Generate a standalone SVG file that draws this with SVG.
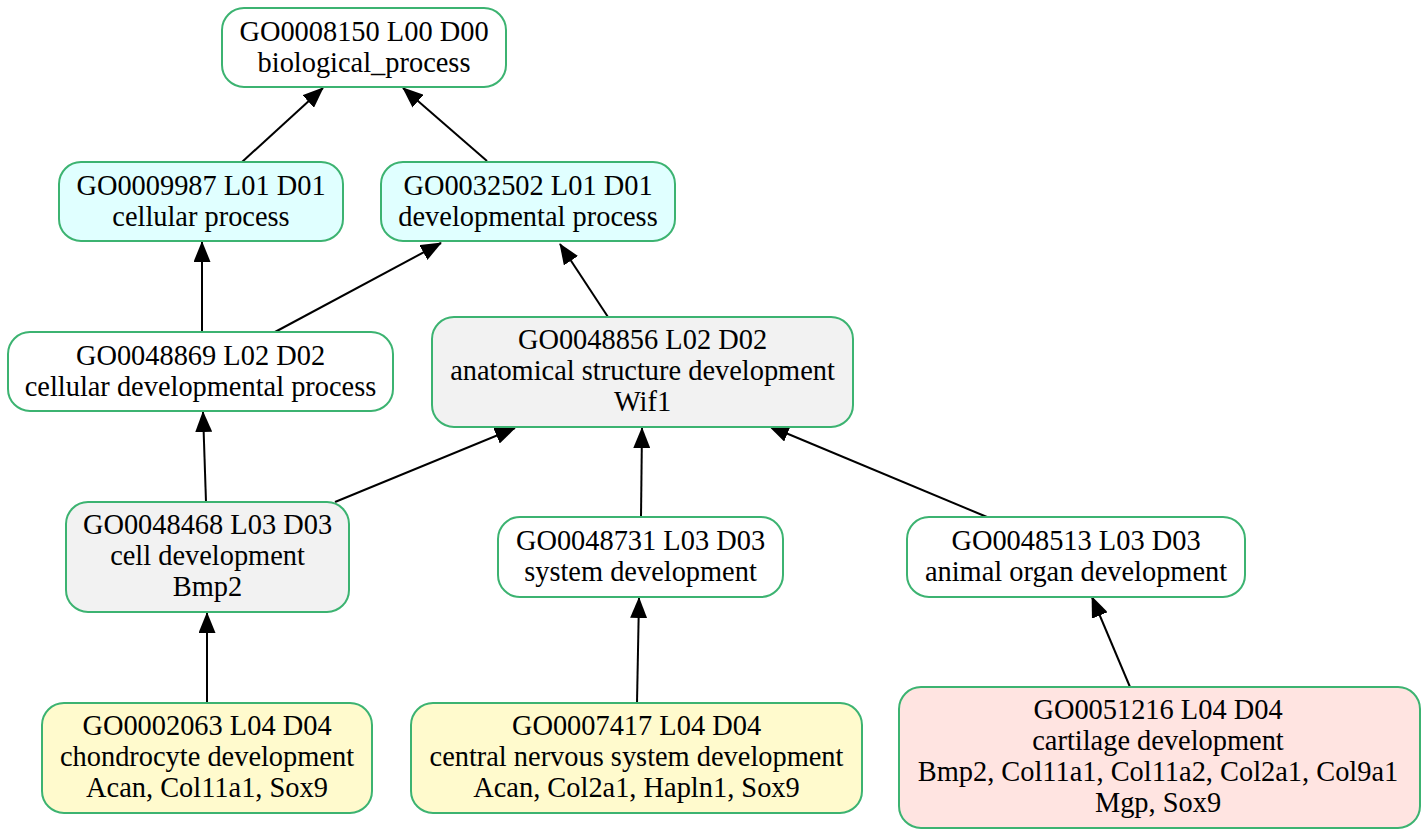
<svg xmlns="http://www.w3.org/2000/svg" width="1428" height="837" viewBox="0 0 1428 837">
<defs>
<style>
.n rect{stroke:#3cb371;stroke-width:2}
.n text{font-family:"Liberation Serif","Times New Roman",serif;font-size:28.4px;text-anchor:middle;fill:#000}
.w rect{fill:#ffffff}
.c rect{fill:#e0ffff}
.g rect{fill:#f2f2f2}
.y rect{fill:#fffacd}
.p rect{fill:#ffe4e1}
#edges line{stroke:#000;stroke-width:2;marker-end:url(#ah)}
</style>
<marker id="ah" viewBox="0 0 21 17" markerWidth="21" markerHeight="17" refX="20" refY="8.5" orient="auto" markerUnits="userSpaceOnUse">
<path d="M0,0 L21,8.5 L0,17 Z" fill="#000"/>
</marker>
</defs>
<rect width="1428" height="837" fill="#fff"/>
<g id="edges">
<line x1="242" y1="162" x2="323" y2="88"/>
<line x1="487" y1="161" x2="403" y2="88"/>
<line x1="202" y1="332" x2="202" y2="242"/>
<line x1="275" y1="332" x2="441" y2="243"/>
<line x1="608" y1="317" x2="560" y2="244"/>
<line x1="206" y1="502" x2="203" y2="412"/>
<line x1="335" y1="502" x2="515" y2="428"/>
<line x1="641" y1="517" x2="642" y2="428"/>
<line x1="987" y1="517" x2="769" y2="426"/>
<line x1="207" y1="703" x2="207" y2="613"/>
<line x1="637" y1="703" x2="639" y2="598"/>
<line x1="1130" y1="687" x2="1092" y2="597"/>
</g>
<g id="GO0008150" class="n w"><rect x="222" y="8" width="284" height="79" rx="22"/><text x="364" y="41">GO0008150 L00 D00</text><text x="364" y="72">biological_process</text></g>
<g id="GO0009987" class="n c"><rect x="59" y="162" width="284" height="79" rx="22"/><text x="201" y="195">GO0009987 L01 D01</text><text x="201" y="226">cellular process</text></g>
<g id="GO0032502" class="n c"><rect x="381" y="162" width="294" height="79" rx="22"/><text x="528" y="195">GO0032502 L01 D01</text><text x="528" y="226">developmental process</text></g>
<g id="GO0048869" class="n w"><rect x="8" y="332" width="385" height="79" rx="22"/><text x="200.5" y="365">GO0048869 L02 D02</text><text x="200.5" y="396">cellular developmental process</text></g>
<g id="GO0048856" class="n g"><rect x="432" y="317" width="421" height="110" rx="22"/><text x="642.5" y="349">GO0048856 L02 D02</text><text x="642.5" y="380">anatomical structure development</text><text x="642.5" y="411">Wif1</text></g>
<g id="GO0048468" class="n g"><rect x="66" y="502" width="283" height="110" rx="22"/><text x="207.5" y="534">GO0048468 L03 D03</text><text x="207.5" y="565">cell development</text><text x="207.5" y="596">Bmp2</text></g>
<g id="GO0048731" class="n w"><rect x="498" y="517" width="285" height="80" rx="22"/><text x="640.5" y="550">GO0048731 L03 D03</text><text x="640.5" y="581">system development</text></g>
<g id="GO0048513" class="n w"><rect x="907" y="517" width="338" height="80" rx="22"/><text x="1076" y="550">GO0048513 L03 D03</text><text x="1076" y="581">animal organ development</text></g>
<g id="GO0002063" class="n y"><rect x="42" y="703" width="330" height="110" rx="22"/><text x="207" y="735">GO0002063 L04 D04</text><text x="207" y="766">chondrocyte development</text><text x="207" y="797">Acan, Col11a1, Sox9</text></g>
<g id="GO0007417" class="n y"><rect x="411" y="703" width="451" height="110" rx="22"/><text x="636.5" y="735">GO0007417 L04 D04</text><text x="636.5" y="766">central nervous system development</text><text x="636.5" y="797">Acan, Col2a1, Hapln1, Sox9</text></g>
<g id="GO0051216" class="n p"><rect x="899" y="687" width="521" height="141" rx="22"/><text x="1158" y="719">GO0051216 L04 D04</text><text x="1158" y="750">cartilage development</text><text x="1158" y="781">Bmp2, Col11a1, Col11a2, Col2a1, Col9a1</text><text x="1158" y="812">Mgp, Sox9</text></g>
</svg>
